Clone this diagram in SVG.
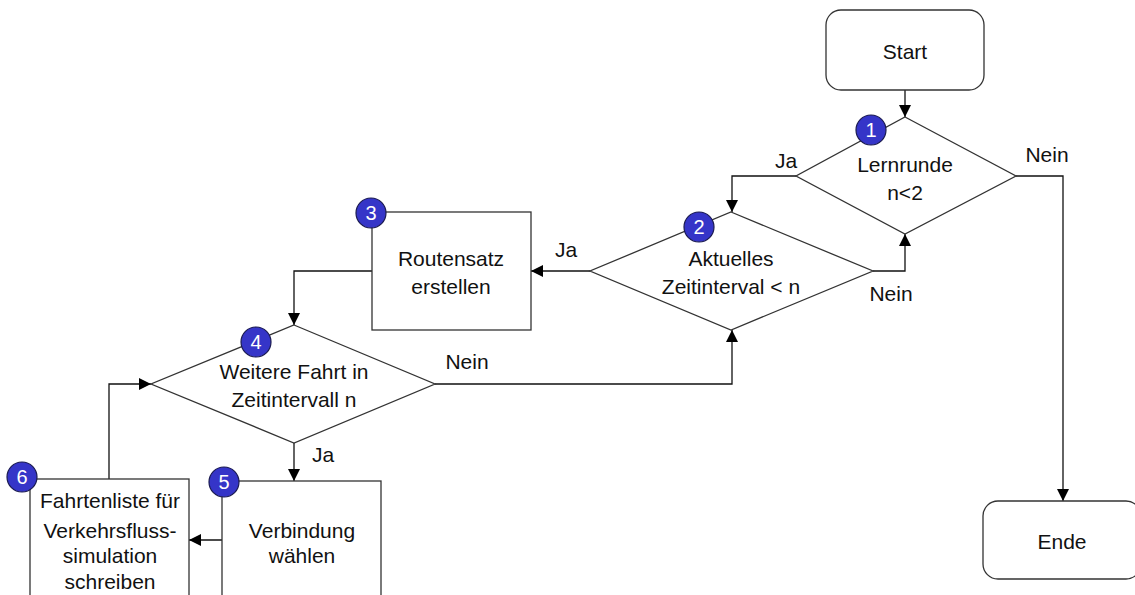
<svg xmlns="http://www.w3.org/2000/svg" width="1135" height="595" viewBox="0 0 1135 595">
  <defs>
    <style>
      .shape { fill: #ffffff; stroke: #333333; stroke-width: 1.3; }
      .conn { fill: none; stroke: #111111; stroke-width: 1.3; }
      .t { font-family: "Liberation Sans", Arial, sans-serif; font-size: 21px; fill: #111111; text-anchor: middle; }
      .badge { fill: #3535c8; stroke: #1a1a50; stroke-width: 1.2; }
      .bn { font-family: "Liberation Sans", Arial, sans-serif; font-size: 20px; fill: #ffffff; text-anchor: middle; }
    </style>
    <marker id="arr" markerUnits="userSpaceOnUse" markerWidth="13" markerHeight="13" refX="12" refY="6" orient="auto">
      <path d="M0,0 L12,6 L0,12 z" fill="#000000"/>
    </marker>
  </defs>
  <rect width="1135" height="595" fill="#ffffff"/>

  <g id="connectors">
    <path class="conn" d="M905,90 V117" marker-end="url(#arr)"/>
    <path class="conn" d="M796,176 H732 V212" marker-end="url(#arr)"/>
    <path class="conn" d="M1016,176 H1063 V501" marker-end="url(#arr)"/>
    <path class="conn" d="M873,271 H905 V234" marker-end="url(#arr)"/>
    <path class="conn" d="M590,271 H531" marker-end="url(#arr)"/>
    <path class="conn" d="M372,271 H294 V325" marker-end="url(#arr)"/>
    <path class="conn" d="M435,384 H732 V330" marker-end="url(#arr)"/>
    <path class="conn" d="M294,443 V481" marker-end="url(#arr)"/>
    <path class="conn" d="M222,540 H189" marker-end="url(#arr)"/>
    <path class="conn" d="M109,479 V384 H151" marker-end="url(#arr)"/>
    <text class="t" x="786" y="168">Ja</text>
    <text class="t" x="1047" y="162">Nein</text>
    <text class="t" x="891" y="301">Nein</text>
    <text class="t" x="566" y="257">Ja</text>
    <text class="t" x="467" y="369">Nein</text>
    <text class="t" x="323" y="462">Ja</text>
  </g>

  <g id="start">
    <rect class="shape" x="826" y="10" width="158" height="80" rx="15" ry="15"/>
    <text class="t" x="905" y="59">Start</text>
  </g>

  <g id="ende">
    <rect class="shape" x="983" y="501" width="158" height="78" rx="15" ry="15"/>
    <text class="t" x="1062" y="549">Ende</text>
  </g>

  <g id="node1">
    <polygon class="shape" points="905,117 1016,176 905,234 796,176"/>
    <text class="t" x="905" y="172">Lernrunde</text>
    <text class="t" x="905" y="200">n&lt;2</text>
    <circle class="badge" cx="871" cy="130" r="15"/>
    <text class="bn" x="871" y="137">1</text>
  </g>

  <g id="node2">
    <polygon class="shape" points="731,212 873,271 731,330 590,271"/>
    <text class="t" x="731" y="266">Aktuelles</text>
    <text class="t" x="731" y="294">Zeitinterval &lt; n</text>
    <circle class="badge" cx="699" cy="227" r="15"/>
    <text class="bn" x="699" y="234">2</text>
  </g>

  <g id="node3">
    <rect class="shape" x="372" y="212" width="159" height="118"/>
    <text class="t" x="451" y="266">Routensatz</text>
    <text class="t" x="451" y="294">erstellen</text>
    <circle class="badge" cx="371" cy="213" r="15"/>
    <text class="bn" x="371" y="220">3</text>
  </g>

  <g id="node4">
    <polygon class="shape" points="294,325 435,384 294,443 151,384"/>
    <text class="t" x="294" y="379">Weitere Fahrt in</text>
    <text class="t" x="294" y="407">Zeitintervall n</text>
    <circle class="badge" cx="256" cy="342" r="15"/>
    <text class="bn" x="256" y="349">4</text>
  </g>

  <g id="node5">
    <rect class="shape" x="222" y="481" width="159" height="130"/>
    <text class="t" x="302" y="538">Verbindung</text>
    <text class="t" x="302" y="563">wählen</text>
    <circle class="badge" cx="224" cy="482" r="15"/>
    <text class="bn" x="224" y="489">5</text>
  </g>

  <g id="node6">
    <rect class="shape" x="30" y="479" width="159" height="130"/>
    <text class="t" x="110" y="508">Fahrtenliste für</text>
    <text class="t" x="110" y="538">Verkehrsfluss-</text>
    <text class="t" x="110" y="563">simulation</text>
    <text class="t" x="110" y="589">schreiben</text>
    <circle class="badge" cx="22" cy="477" r="15"/>
    <text class="bn" x="22" y="484">6</text>
  </g>
</svg>
